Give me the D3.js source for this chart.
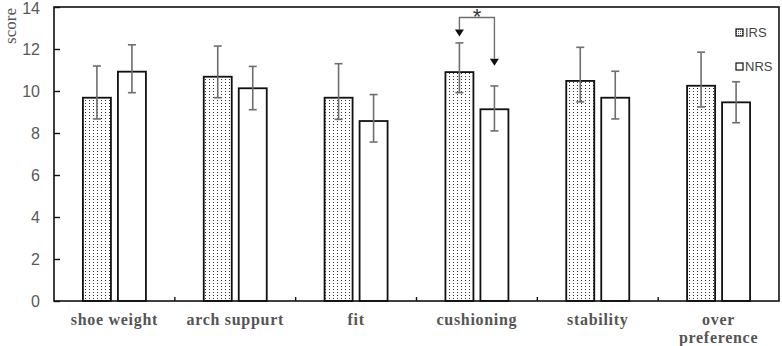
<!DOCTYPE html>
<html>
<head>
<meta charset="utf-8">
<script src="https://cdn.jsdelivr.net/npm/d3@7"></script>
<style>
  body { margin: 0; background: #fff; }
  svg { display: block; }
</style>
</head>
<body>
<script>
// categories and series
const categories = ["shoe weight", "arch suppurt", "fit", "cushioning", "stability", "over preference"];
const series = ["IRS", "NRS"];

// mean scores
const irsMean = [9.68, 10.68, 9.68, 10.9, 10.48, 10.25];
const nrsMean = [10.92, 10.13, 8.57, 9.13, 9.68, 9.46];
// error bar ends (upper / lower cap)
const irsHigh = [11.19, 12.14, 11.3, 12.29, 12.08, 11.85];
const irsLow  = [8.67, 9.68, 8.65, 9.92, 9.48, 9.24];
const nrsHigh = [12.2, 11.17, 9.83, 10.24, 10.94, 10.44];
const nrsLow  = [9.92, 9.11, 7.57, 8.1, 8.67, 8.49];

const yTicks = [0, 2, 4, 6, 8, 10, 12, 14];

let width = 782;
let height = 346;
let marginTop = 7;
let marginRight = 3;
let marginBottom = 45;
let marginLeft = 54;

let data = [];
categories.forEach((c, i) => {
    data.push({ cat: c, s: "IRS", v: irsMean[i], hi: irsHigh[i], lo: irsLow[i] });
    data.push({ cat: c, s: "NRS", v: nrsMean[i], hi: nrsHigh[i], lo: nrsLow[i] });
});

let x = d3.scaleBand()
    .domain(categories)
    .range([marginLeft, width - marginRight]);

let sub = d3.scaleBand()
    .domain(series)
    .range([0, 63])
    .paddingInner(0.2);

let y = d3.scaleLinear()
    .domain([0, 14])
    .range([height - marginBottom, marginTop]);

let svg = d3.select("body").append("svg")
    .attr("width", width)
    .attr("height", height)
    .attr("viewBox", [0, 0, width, height]);

// dotted fill for IRS
let defs = svg.append("defs");
let pat = defs.append("pattern")
    .attr("id", "dots")
    .attr("patternUnits", "userSpaceOnUse")
    .attr("width", 4)
    .attr("height", 3);
pat.append("rect").attr("width", 4).attr("height", 3).attr("fill", "#fff");
pat.append("rect").attr("x", 1).attr("y", 1).attr("width", 1).attr("height", 1).attr("fill", "#333");

let pat2 = defs.append("pattern")
    .attr("id", "dotsSmall")
    .attr("patternUnits", "userSpaceOnUse")
    .attr("width", 2)
    .attr("height", 2);
pat2.append("rect").attr("width", 2).attr("height", 2).attr("fill", "#fff");
pat2.append("rect").attr("width", 1).attr("height", 1).attr("fill", "#555");

let barX = d => x(d.cat) + x.bandwidth() / 2 - 31.5 + sub(d.s);

// bars
svg.append("g")
    .selectAll("rect")
    .data(data)
    .join("rect")
    .attr("x", barX)
    .attr("y", d => y(d.v))
    .attr("width", sub.bandwidth())
    .attr("height", d => y(0) - y(d.v))
    .attr("fill", d => d.s === "IRS" ? "url(#dots)" : "#fff")
    .attr("stroke", "#111")
    .attr("stroke-width", 1.8);

// error bars
let err = svg.append("g")
    .attr("stroke", "#6e6e6e")
    .attr("stroke-width", 1.6);
data.forEach(d => {
    let cx = barX(d) + sub.bandwidth() / 2;
    err.append("line").attr("x1", cx).attr("x2", cx).attr("y1", y(d.hi)).attr("y2", y(d.lo));
    err.append("line").attr("x1", cx - 4).attr("x2", cx + 4).attr("y1", y(d.hi)).attr("y2", y(d.hi));
    err.append("line").attr("x1", cx - 4).attr("x2", cx + 4).attr("y1", y(d.lo)).attr("y2", y(d.lo));
});

// frame
svg.append("rect")
    .attr("x", marginLeft)
    .attr("y", marginTop)
    .attr("width", width - marginLeft - marginRight)
    .attr("height", height - marginTop - marginBottom)
    .attr("fill", "none")
    .attr("stroke", "#111")
    .attr("stroke-width", 1.6);

// y axis
svg.append("g")
    .attr("transform", `translate(${marginLeft},0)`)
    .call(d3.axisLeft(y).tickValues(yTicks).tickSize(-6).tickPadding(14))
    .call(g => g.select(".domain").remove())
    .call(g => g.selectAll(".tick line").attr("stroke", "#111").attr("stroke-width", 1.4))
    .call(g => g.selectAll(".tick text")
        .attr("fill", "#595959")
        .attr("font-family", "Liberation Sans, Arial, sans-serif")
        .attr("font-size", 16))
    .call(g => g.selectAll(".tick text").filter(d => d === 14).attr("dy", "0.4em"));

// x tick marks between categories
svg.append("g")
    .attr("stroke", "#111")
    .attr("stroke-width", 1.4)
    .selectAll("line")
    .data(categories.slice(1))
    .join("line")
    .attr("x1", d => x(d))
    .attr("x2", d => x(d))
    .attr("y1", y(0))
    .attr("y2", y(0) - 4);

// category labels
let labels = svg.append("g")
    .attr("fill", "#555")
    .attr("font-family", "Liberation Serif, Times New Roman, serif")
    .attr("font-weight", "bold")
    .attr("font-size", 16)
    .attr("letter-spacing", 0.7)
    .attr("text-anchor", "middle");
categories.forEach(c => {
    let words = c === "over preference" ? ["over", "preference"] : [c];
    words.forEach((w, i) => {
        labels.append("text")
            .attr("x", x(c) + x.bandwidth() / 2)
            .attr("y", height - marginBottom + 24 + i * 18)
            .text(w);
    });
});

// y title
svg.append("text")
    .attr("transform", "translate(16,26) rotate(-90)")
    .attr("text-anchor", "middle")
    .attr("fill", "#555")
    .attr("font-family", "Liberation Serif, Times New Roman, serif")
    .attr("font-size", 17)
    .text("score");

// significance annotation for cushioning
let sig = { cat: "cushioning", bracket: 13.5, tipIRS: 12.6, tipNRS: 11.2 };
let xa = x(sig.cat) + x.bandwidth() / 2 - 31.5 + sub("IRS") + sub.bandwidth() / 2;
let xb = x(sig.cat) + x.bandwidth() / 2 - 31.5 + sub("NRS") + sub.bandwidth() / 2;
let ann = svg.append("g");
ann.append("path")
    .attr("d", `M${xa},${y(sig.tipIRS) - 7} V${y(sig.bracket)} H${xb} V${y(sig.tipNRS) - 7}`)
    .attr("fill", "none")
    .attr("stroke", "#6e6e6e")
    .attr("stroke-width", 1.4);
[[xa, sig.tipIRS], [xb, sig.tipNRS]].forEach(([ax, v]) => {
    ann.append("path")
        .attr("d", `M${ax - 4.5},${y(v) - 7} L${ax + 4.5},${y(v) - 7} L${ax},${y(v)} Z`)
        .attr("fill", "#111");
});
ann.append("text")
    .attr("x", (xa + xb) / 2)
    .attr("y", y(sig.bracket) + 6)
    .attr("text-anchor", "middle")
    .attr("fill", "#333")
    .attr("font-family", "Liberation Sans, Arial, sans-serif")
    .attr("font-size", 22)
    .text("*");

// legend
let legend = svg.append("g")
    .attr("transform", `translate(736, 29)`);
series.forEach((s, i) => {
    let row = legend.append("g").attr("transform", `translate(0, ${i * 34})`);
    row.append("rect")
        .attr("width", 7)
        .attr("height", 7)
        .attr("fill", s === "IRS" ? "url(#dotsSmall)" : "#fff")
        .attr("stroke", "#111")
        .attr("stroke-width", 1.2);
    row.append("text")
        .attr("x", 9)
        .attr("y", 8)
        .attr("fill", "#444")
        .attr("font-family", "Liberation Sans, Arial, sans-serif")
        .attr("font-size", 13)
        .text(s);
});
</script>
</body>
</html>
